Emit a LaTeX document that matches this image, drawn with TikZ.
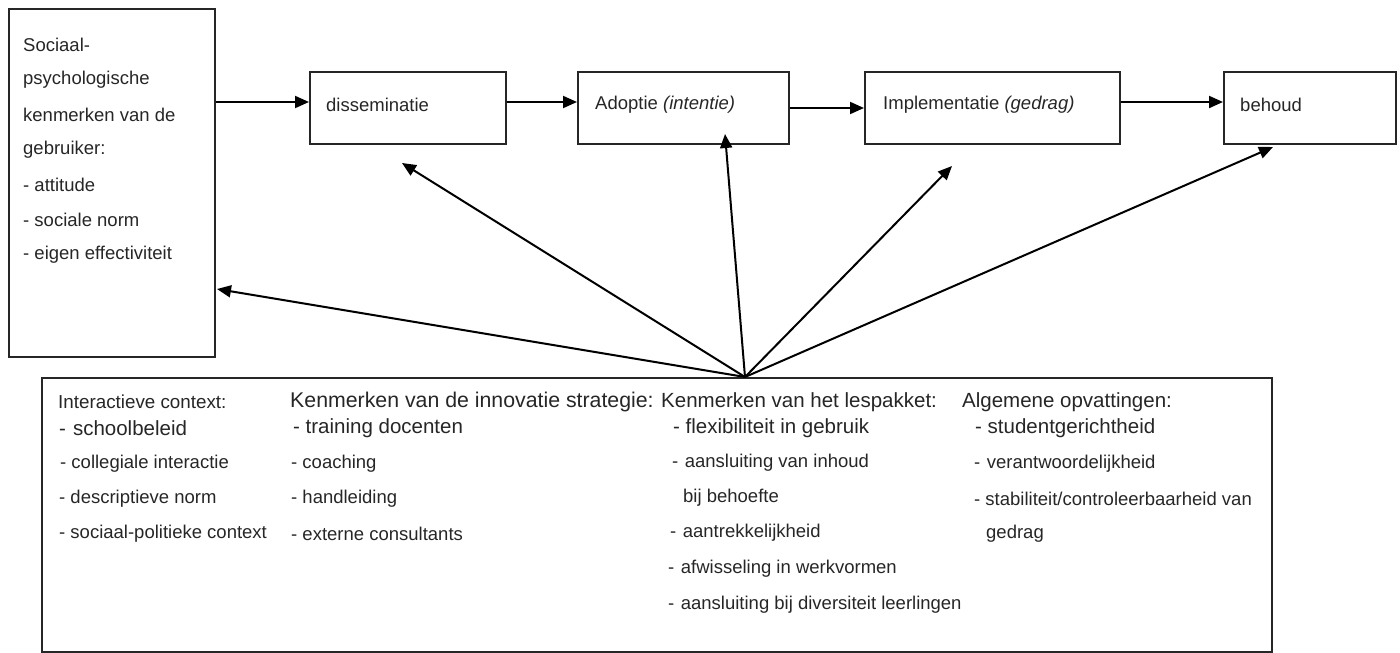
\documentclass[tikz,border=0pt]{standalone}
\usepackage{fontspec}
\setmainfont{Liberation Sans}
\usetikzlibrary{arrows.meta}
\begin{document}
\begin{tikzpicture}[x=1pt,y=-1pt,
  box/.style={draw=black!85, line width=1.5pt, inner sep=0pt, anchor=north west},
  arr/.style={draw=black, line width=2pt, -{Triangle[length=14pt,width=12pt]}},
  itm/.style={anchor=west, inner sep=0pt, text=black!85, font=\fontsize{18.5}{22}\selectfont},
  hd/.style={anchor=west, inner sep=0pt, text=black!85, font=\fontsize{20.5}{24}\selectfont}]
\useasboundingbox (0,0) rectangle (1400,653);
% boxes
\node[box, minimum width=206pt, minimum height=348pt] (L) at (8,8) {};
\node[box, minimum width=196pt, minimum height=72pt] (D) at (309,71) {};
\node[box, minimum width=211pt, minimum height=72pt] (A) at (577,71) {};
\node[box, minimum width=255pt, minimum height=72pt] (I) at (864,71) {};
\node[box, minimum width=172pt, minimum height=72pt] (H) at (1223,71) {};
\node[box, minimum width=1230pt, minimum height=274pt] (B) at (41,377) {};
% left box text
\node[itm] (L1) at (23,45) {Sociaal-};
\node[itm] (L2) at (23,80) {psychologische};
\node[itm] (L3) at (23,115) {kenmerken van de};
\node[itm] (L4) at (23,150) {gebruiker:};
\node[itm] (L5) at (23,185) {- attitude};
\node[itm] (L6) at (23,220) {- sociale norm};
\node[itm] (L7) at (23,255) {- eigen effectiviteit};
% top box texts
\node[itm] (Dt) at (326,105) {disseminatie};
\node[itm] (At) at (595,105) {Adoptie \textit{(intentie)}};
\node[itm] (It) at (883,105) {Implementatie \textit{(gedrag)}};
\node[itm] (Ht) at (1240,105) {behoud};
% column 1
\node[hd, font=\fontsize{18.8}{22}\selectfont] (c1h) at (58,402) {Interactieve context:};
\node[hd] (c1a) at (59,428) {-\hspace{7pt}schoolbeleid};
\node[itm] (c1b) at (60,464) {- collegiale interactie};
\node[itm] (c1c) at (59,499) {- descriptieve norm};
\node[itm] (c1d) at (59,534) {- sociaal-politieke context};
% column 2
\node[hd, font=\fontsize{21.3}{25}\selectfont] (c2h) at (290,402) {Kenmerken van de innovatie strategie:};
\node[hd] (c2a) at (293,428) {- training docenten};
\node[itm] (c2b) at (291,464) {- coaching};
\node[itm] (c2c) at (291,499) {- handleiding};
\node[itm] (c2d) at (291,534) {- externe consultants};
% column 3
\node[hd] (c3h) at (661,402) {Kenmerken van het lespakket:};
\node[hd] (c3a) at (673,428) {- flexibiliteit in gebruik};
\node[itm] (c3b) at (672,463) {-\hspace{6.5pt}aansluiting van inhoud};
\node[itm] (c3c) at (683,498) {bij behoefte};
\node[itm] (c3d) at (670,533) {-\hspace{6.5pt}aantrekkelijkheid};
\node[itm] (c3e) at (668,569) {-\hspace{6.5pt}afwisseling in werkvormen};
\node[itm] (c3f) at (668,605) {-\hspace{6.5pt}aansluiting bij diversiteit leerlingen};
% column 4
\node[hd] (c4h) at (962,402) {Algemene opvattingen:};
\node[hd] (c4a) at (975,428) {- studentgerichtheid};
\node[itm] (c4b) at (974,464) {-\hspace{6.5pt}verantwoordelijkheid};
\node[itm] (c4c) at (974,499) {- stabiliteit/controleerbaarheid van};
\node[itm] (c4d) at (986,534) {gedrag};
% horizontal arrows
\coordinate (ya) at (0,102);
\coordinate (yb) at (0,108);
\draw[arr] (L.east |- ya) -- (D.west |- ya);
\draw[arr] (D.east |- ya) -- (A.west |- ya);
\draw[arr] (A.east |- yb) -- (I.west |- yb);
\draw[arr] (I.east |- ya) -- (H.west |- ya);
% fan arrows
\coordinate (O) at (745,377);
\coordinate (tL) at (217,289);
\coordinate (tD) at (402,163);
\coordinate (tA) at (725,134);
\coordinate (tI) at (952,166);
\coordinate (tH) at (1273,147);
\draw[arr] (O) -- (tL);
\draw[arr] (O) -- (tD);
\draw[arr] (O) -- (tA);
\draw[arr] (O) -- (tI);
\draw[arr] (O) -- (tH);
\end{tikzpicture}
\end{document}
